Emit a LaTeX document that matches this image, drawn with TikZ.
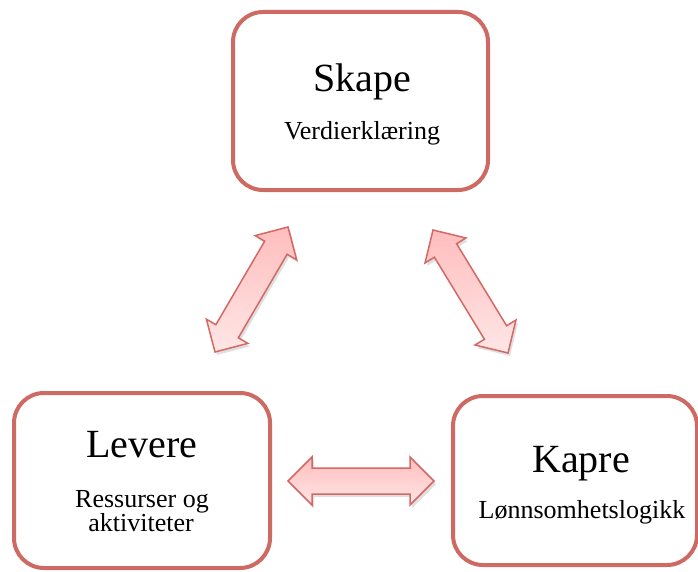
\documentclass[tikz,border=0pt]{standalone}
\usepackage{fontspec}
\setmainfont{Liberation Serif}
\usetikzlibrary{positioning, calc, shadows}
\definecolor{boxred}{HTML}{CD6A63}
\definecolor{arrowedge}{HTML}{D36864}
\definecolor{arrowdark}{HTML}{FFBDBD}
\definecolor{arrowlight}{HTML}{FFE6E6}
\tikzset{
        my-box/.style={
            draw=boxred, line width=4pt, rounded corners=30pt, fill=white
        },
        my-title/.style={anchor=base, inner sep=0pt, font=\fontsize{40}{48}\selectfont},
        my-sub/.style={anchor=base, inner sep=0pt, font=\fontsize{26}{30}\selectfont},
        my-arrow/.style={
            draw=arrowedge, line width=1.5pt, line join=miter,
            top color=arrowdark, bottom color=arrowlight,
            drop shadow={opacity=0.25, shadow xshift=2pt, shadow yshift=-3pt}
        },
}
\newcommand{\headlen}{24pt}
\newcommand{\headwid}{24pt}
\newcommand{\shaftwid}{13pt}
% block double arrow from #1 to #2
\newcommand{\blockarrow}[2]{%
  \draw[my-arrow] let \p1=(#1), \p2=(#2), \n1={atan2(\y2-\y1,\x2-\x1)} in
    (\p1) -- ($(\p1)+(\n1:\headlen)+(\n1+90:\headwid)$)
          -- ($(\p1)+(\n1:\headlen)+(\n1+90:\shaftwid)$)
          -- ($(\p2)+(\n1+180:\headlen)+(\n1+90:\shaftwid)$)
          -- ($(\p2)+(\n1+180:\headlen)+(\n1+90:\headwid)$)
          -- (\p2)
          -- ($(\p2)+(\n1+180:\headlen)+(\n1-90:\headwid)$)
          -- ($(\p2)+(\n1+180:\headlen)+(\n1-90:\shaftwid)$)
          -- ($(\p1)+(\n1:\headlen)+(\n1-90:\shaftwid)$)
          -- ($(\p1)+(\n1:\headlen)+(\n1-90:\headwid)$)
          -- cycle;}

\begin{document}
\begin{tikzpicture}[x=1pt, y=-1pt]
        \useasboundingbox (0,0) rectangle (698,572);

        %DRAW BOXES
        \node [my-box, minimum width=255pt, minimum height=178pt] (skape)  at (360.5,101) {};
        \node [my-box, minimum width=256pt, minimum height=175pt] (levere) at (142,480.5) {};
        \node [my-box, minimum width=244pt, minimum height=169pt] (kapre)  at (575,480.5) {};

        %TEXTS (relative to the boxes)
        \node [my-title] (skapeT)  at ($(skape)+(1.5,-9)$)    {Skape};
        \node [my-sub]   (skapeS)  at ($(skape)+(1.5,39)$)    {Verdierklæring};
        \node [my-title] (levereT) at ($(levere)+(0,-23.5)$)  {Levere};
        \node [my-sub]   (levereS) at ($(levere)+(0,26.5)$)   {Ressurser og};
        \node [my-sub]   (levereU) at ($(levere)+(-1,50.5)$)  {aktiviteter};
        \node [my-title] (kapreT)  at ($(kapre)+(6,-8.5)$)    {Kapre};
        \node [my-sub]   (kapreS)  at ($(kapre)+(7,37.5)$)    {Lønnsomhetslogikk};

        %ARROW ENDS
        \coordinate (levUp)   at (215,352);
        \coordinate (skaLeft) at (288,227);
        \coordinate (skaRight) at (433,230);
        \coordinate (kapUp)   at (508,353);
        \coordinate (levRight) at (288,481);
        \coordinate (kapLeft) at (434,481);

        % CONNECT BOXES
        \blockarrow{levUp}{skaLeft}
        \blockarrow{skaRight}{kapUp}
        \blockarrow{levRight}{kapLeft}

\end{tikzpicture}
\end{document}
